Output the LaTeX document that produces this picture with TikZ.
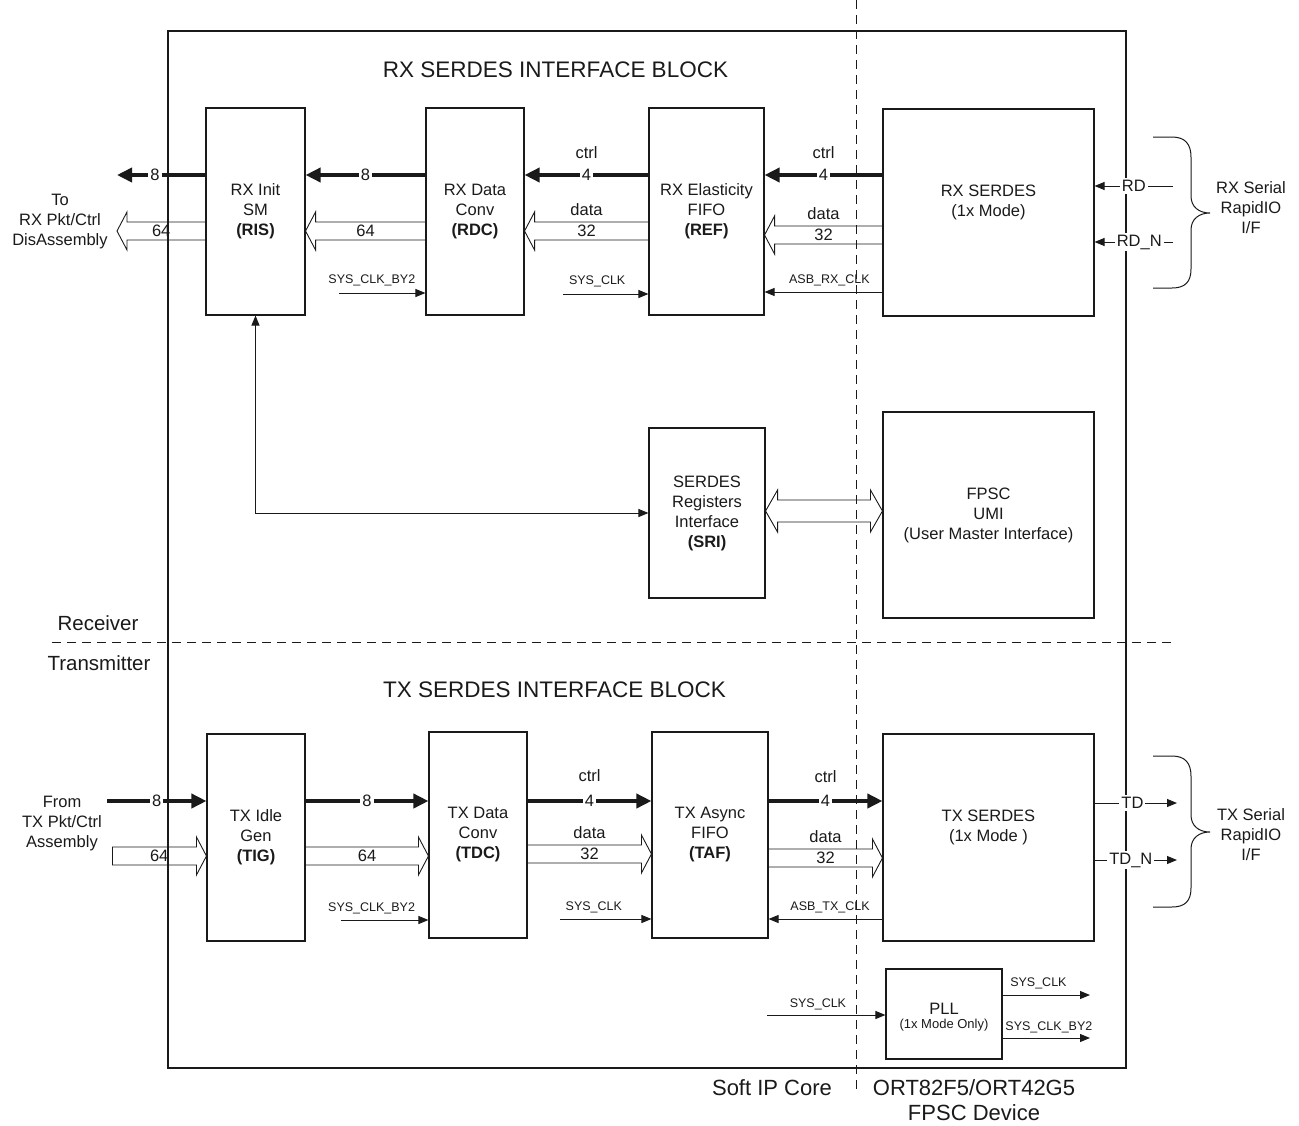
\documentclass[tikz,border=0pt]{standalone}
\usepackage{fontspec}
\setmainfont{Liberation Sans}
\usetikzlibrary{arrows.meta,calc}
\definecolor{ink}{HTML}{1A1A1A}
\newcommand\fmain{\fontsize{16.5}{20}\selectfont}
\newcommand\fsmall{\fontsize{12.5}{14}\selectfont}
\newcommand\fpll{\fontsize{13}{14}\selectfont}
\newcommand\ftitle{\fontsize{22.5}{26}\selectfont}
\newcommand\fside{\fontsize{20.5}{24}\selectfont}
\newcommand\fbottom{\fontsize{22}{25}\selectfont}
\tikzset{
  blk/.style n args={2}{draw=ink, line width=1.1pt, align=center, font=\fmain, text=ink,
     inner sep=0pt, minimum width=#1, minimum height=#2},
  thickarrow/.style={draw=ink, line width=3.6pt, -{Triangle[length=15pt,width=14pt]}},
  thinarrow/.style={draw=ink, line width=1pt, -{Triangle[length=10pt,width=8pt]}},
  thinboth/.style={draw=ink, line width=1pt, {Triangle[length=10pt,width=8pt]}-{Triangle[length=10pt,width=8pt]}},
  hollow/.style={draw=ink, line width=0.9pt, line join=miter},
  num/.style={font=\fmain, text=ink, fill=white, inner sep=2pt},
  lbl/.style={font=\fmain, text=ink, inner sep=0pt},
  clk/.style={font=\fsmall, text=ink, inner sep=0pt},
  txt/.style={align=center, text=ink, inner sep=0pt},
  dashline/.style={draw=ink, line width=1pt, dash pattern=on 9pt off 6pt},
  bracestyle/.style={draw=ink, line width=1pt},
}
% #1 tail anchor, #2 tip anchor, #3 centre y (px), #4 head offset (+10 leftward / -10 rightward), #5 inner label, #6 upper label
\newcommand{\hollowarrow}[6]{%
  \draw[hollow] let \p1=(#1), \p2=(#2) in
    (\x1,-#3pt+9pt) -- (\x2#4pt,-#3pt+9pt) -- (\x2#4pt,-#3pt+19pt) -- (\x2,-#3pt)
    -- (\x2#4pt,-#3pt-19pt) -- (\x2#4pt,-#3pt-9pt) -- (\x1,-#3pt-9pt);
  \path let \p1=(#1), \p2=(#2) in (\x1/2+\x2/2,-#3pt) node[lbl]{#5};
  \ifx\relax#6\relax\else
  \path let \p1=(#1), \p2=(#2) in (\x1/2+\x2/2,-#3pt+21.5pt) node[lbl]{#6};
  \fi}
\newcommand{\bracepath}{%
  \draw[bracestyle] (1153,137) -- (1172,137) .. controls (1185,137) and (1191,144) .. (1191,157)
    -- (1191,196) .. controls (1191,207) and (1199,213) .. (1210,213)
    .. controls (1199,213) and (1191,219) .. (1191,230)
    -- (1191,269) .. controls (1191,282) and (1185,288) .. (1172,288) -- (1153,288);}
\begin{document}
\begin{tikzpicture}[x=1pt,y=-1pt]
\useasboundingbox (0,0) rectangle (1299,1125);
\node[draw=ink,line width=1.1pt,minimum width=958,minimum height=1037,inner sep=0pt] (core) at (647,549.5) {};

% ---------- RX blocks
\node[blk={99}{207}] (ris) at (255.5,211.5) {RX Init\\SM\\\textbf{(RIS)}};
\node[blk={98}{207}] (rdc) at (475,211.5) {RX Data\\Conv\\\textbf{(RDC)}};
\node[blk={115}{207}] (ref) at (706.5,211.5) {RX Elasticity\\FIFO\\\textbf{(REF)}};
\node[blk={211}{207}, label={[txt,font=\fmain,yshift=10pt]center:RX SERDES\\(1x Mode)}] (rxs) at (988.5,212.5) {};
\node[blk={116}{170}] (sri) at (707,513) {SERDES\\Registers\\Interface\\\textbf{(SRI)}};
\node[blk={211}{206}] (umi) at (988.5,515) {FPSC\\UMI\\(User Master Interface)};

% ---------- TX blocks
\node[blk={98}{207}] (tig) at (256,837.5) {TX Idle\\Gen\\\textbf{(TIG)}};
\node[blk={98}{206}] (tdc) at (478,835) {TX Data\\Conv\\\textbf{(TDC)}};
\node[blk={116}{206}] (taf) at (710,835) {TX Async\\FIFO\\\textbf{(TAF)}};
\node[blk={211}{207}, label={[txt,font=\fmain,yshift=10.5pt]center:TX SERDES\\(1x Mode )}] (txs) at (988.5,837.5) {};
\node[blk={116}{90}, label={[lbl,yshift=5pt]center:PLL}, label={[txt,font=\fpll,yshift=-11.5pt]center:(1x Mode Only)}] (pll) at (944,1014) {};

% ---------- texts
\node[txt,font=\ftitle] (rxtitle) at (555.5,70) {RX SERDES INTERFACE BLOCK};
\node[txt,font=\ftitle] (txtitle) at (554.5,690) {TX SERDES INTERFACE BLOCK};
\node[txt,font=\fside] (recv) at (98,623) {Receiver};
\node[txt,font=\fside] (trans) at (99,663) {Transmitter};
\node[txt,font=\fmain] (torx) at (60,222) {To\\RX Pkt/Ctrl\\DisAssembly};
\node[txt,font=\fmain] (fromtx) at (62,824) {From\\TX Pkt/Ctrl\\Assembly};
\node[txt,font=\fmain] (rxif) at (1251,208) {RX Serial\\RapidIO\\I/F};
\node[txt,font=\fmain] (txif) at (1251,835) {TX Serial\\RapidIO\\I/F};
\node[txt,font=\fbottom] (soft) at (772,1088) {Soft IP Core};
\node[txt,font=\fbottom] (fpscdev) at (974,1100) {ORT82F5/ORT42G5\\FPSC Device};

% ---------- coordinates
\coordinate (yrc) at (0,175);
\coordinate (rxout8) at (117,175);
\coordinate (rxout64) at (117,231);
\coordinate (ytc) at (0,801);
\coordinate (txin8) at (107,801);
\coordinate (txin64) at (112,856);
\coordinate (rxck1) at (339,293);
\coordinate (rxck2) at (563,294);
\coordinate (yasbrx) at (0,292);
\coordinate (txck1) at (341,920);
\coordinate (txck2) at (560,919);
\coordinate (yasbtx) at (0,919);
\coordinate (pllin) at (767,1015);
\coordinate (pllo1) at (1090,995);
\coordinate (pllo2) at (1090,1038);
\coordinate (rdsrc) at (1173,186);
\coordinate (rdnsrc) at (1173,242);
\coordinate (tdend) at (1177,803);
\coordinate (tdnend) at (1177,860);

% ---------- RX ctrl
\draw[thickarrow] (ris.west |- yrc) -- (rxout8) node[num,pos=0.57]{8};
\draw[thickarrow] (rdc.west |- yrc) -- (ris.east |- yrc) node[num,midway]{8};
\draw[thickarrow] (ref.west |- yrc) -- (rdc.east |- yrc) node[num,midway]{4} node[lbl,midway,yshift=22pt]{ctrl};
\draw[thickarrow] (rxs.west |- yrc) -- (ref.east |- yrc) node[num,midway]{4} node[lbl,midway,yshift=22pt]{ctrl};

% ---------- RX data
\hollowarrow{ris.west}{rxout64}{231}{+10}{64}{}
\hollowarrow{rdc.west}{ris.east}{231}{+10}{64}{}
\hollowarrow{ref.west}{rdc.east}{231}{+10}{32}{data}
\hollowarrow{rxs.west}{ref.east}{235}{+10}{32}{data}

% ---------- RX clocks
\draw[thinarrow] (rxck1) -- (rxck1 -| rdc.west) node[clk,pos=0.38,yshift=13pt]{SYS\_CLK\_BY2};
\draw[thinarrow] (rxck2) -- (rxck2 -| ref.west) node[clk,pos=0.4,yshift=13pt]{SYS\_CLK};
\draw[thinarrow] (rxs.west |- yasbrx) -- (ref.east |- yasbrx) node[clk,pos=0.45,yshift=12pt]{ASB\_RX\_CLK};

% ---------- register interface
\draw[thinboth] (ris.south) |- (sri.west);
\draw[hollow] let \p1=(sri.east), \p2=(umi.west) in
  (\x1,-511pt) -- (\x1+12pt,-511pt+21pt) -- (\x1+12pt,-511pt+11pt) -- (\x2-12pt,-511pt+11pt)
  -- (\x2-12pt,-511pt+21pt) -- (\x2,-511pt) -- (\x2-12pt,-511pt-21pt) -- (\x2-12pt,-511pt-11pt)
  -- (\x1+12pt,-511pt-11pt) -- (\x1+12pt,-511pt-21pt) -- cycle;

% ---------- RX serial
\draw[thinarrow] (rdsrc) -- (rdsrc -| rxs.east) node[num,pos=0.5]{RD};
\draw[thinarrow] (rdnsrc) -- (rdnsrc -| rxs.east) node[num,pos=0.43]{RD\_N};
\bracepath
\begin{scope}[shift={(0,619)}]
\bracepath
\end{scope}

% ---------- TX ctrl
\draw[thickarrow] (txin8) -- (txin8 -| tig.west) node[num,midway]{8};
\draw[thickarrow] (tig.east |- ytc) -- (tdc.west |- ytc) node[num,midway]{8};
\draw[thickarrow] (tdc.east |- ytc) -- (taf.west |- ytc) node[num,midway]{4} node[lbl,midway,yshift=25pt]{ctrl};
\draw[thickarrow] (taf.east |- ytc) -- (txs.west |- ytc) node[num,midway]{4} node[lbl,midway,yshift=24pt]{ctrl};

% ---------- TX data
\hollowarrow{txin64}{tig.west}{856}{-10}{64}{}
\draw[hollow] (txin64) ++(0,-9) -- ++(0,18);
\hollowarrow{tig.east}{tdc.west}{856}{-10}{64}{}
\hollowarrow{tdc.east}{taf.west}{854}{-10}{32}{data}
\hollowarrow{taf.east}{txs.west}{858}{-10}{32}{data}

% ---------- TX clocks
\draw[thinarrow] (txck1) -- (txck1 -| tdc.west) node[clk,pos=0.35,yshift=12pt]{SYS\_CLK\_BY2};
\draw[thinarrow] (txck2) -- (txck2 -| taf.west) node[clk,pos=0.37,yshift=12pt]{SYS\_CLK};
\draw[thinarrow] (txs.west |- yasbtx) -- (taf.east |- yasbtx) node[clk,pos=0.46,yshift=12pt]{ASB\_TX\_CLK};

% ---------- TX serial
\draw[thinarrow] (txs.east |- tdend) -- (tdend) node[num,pos=0.46]{TD};
\draw[thinarrow] (txs.east |- tdnend) -- (tdnend) node[num,pos=0.44]{TD\_N};

% ---------- PLL
\draw[thinarrow] (pllin) -- (pllin -| pll.west) node[clk,pos=0.43,yshift=11pt]{SYS\_CLK};
\draw[thinarrow] (pllo1 -| pll.east) -- (pllo1) node[clk,pos=0.41,yshift=12pt]{SYS\_CLK};
\draw[thinarrow] (pllo2 -| pll.east) -- (pllo2) node[clk,pos=0.53,yshift=11pt]{SYS\_CLK\_BY2};

% ---------- boundaries
\draw[dashline] (856,0) -- (856,1093);
\draw[dashline] (52,642) -- (1172,642);
\end{tikzpicture}
\end{document}
